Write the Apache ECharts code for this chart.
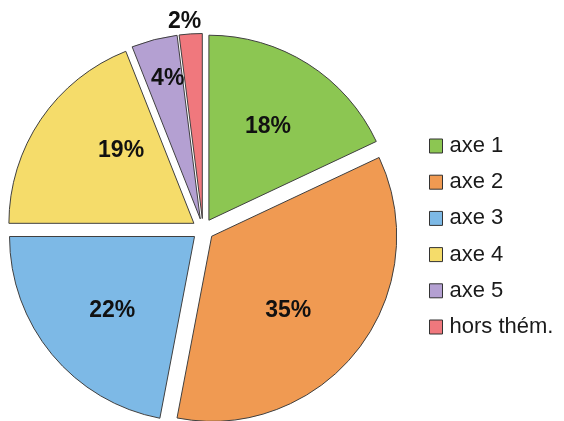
<!DOCTYPE html>
<html>
<head>
<meta charset="utf-8">
<script src="https://cdn.jsdelivr.net/npm/echarts@6/dist/echarts.min.js"></script>
<style>
  html, body { margin: 0; padding: 0; background: #ffffff; overflow: hidden; }
  #chart { width: 564px; height: 421px; }
</style>
</head>
<body>
<div id="chart"></div>
<script>
// Répartition par axe thématique (en %)
const categories = ['axe 1', 'axe 2', 'axe 3', 'axe 4', 'axe 5', 'hors thém.'];
const values = [18, 35, 22, 19, 4, 2];
const colors = ['#8cc652', '#f09a52', '#7db9e6', '#f5dc6a', '#b4a0d2', '#f0787d'];

// which ring each percentage label sits in: 0 = middle, 1 = near rim, 2 = outside
const labelRing = [0, 0, 0, 0, 1, 2];
// horizontal nudges (via side padding) and vertical nudges (via a spacer line)
const labelPadding = [
  [0, 6, 0, 0],
  [0, 30, 0, 0],
  [0, 0, 0, 14],
  [0, 0, 0, 46],
  [0, 0, 0, 10],
  [0, 10, 0, 0]
];
const labelShiftY = [4, 3, 0, -8, 6, 6];

const CX = 203, CY = 229.5, R = 185, OFFSET = 11;

const sliceData = categories.map((name, i) => ({
  name,
  value: values[i],
  selected: true,
  itemStyle: { color: colors[i] }
}));

function labelText(i) {
  const v = '{v|' + values[i] + '%}';
  const s = labelShiftY[i];
  if (s > 0) return '{g' + i + '| }\n' + v;
  if (s < 0) return v + '\n{g' + i + '| }';
  return v;
}

const richStyles = { v: { fontSize: 23, lineHeight: 24, fontWeight: 'bold', color: '#111111',
  fontFamily: 'Liberation Sans, Arial, sans-serif' } };
labelShiftY.forEach((s, i) => {
  richStyles['g' + i] = { fontSize: 1, lineHeight: Math.abs(s) * 2 };
});

// transparent rings carrying the percentage labels at different radii
function labelSeries(ring, radius) {
  return {
    type: 'pie',
    silent: true,
    center: [CX, CY],
    radius: radius,
    startAngle: 90,
    clockwise: true,
    selectedMode: 'multiple',
    selectedOffset: OFFSET,
    avoidLabelOverlap: false,
    legendHoverLink: false,
    emphasis: { disabled: true },
    select: { itemStyle: { color: 'rgba(0,0,0,0)', borderWidth: 0 } },
    itemStyle: { color: 'rgba(0,0,0,0)', borderWidth: 0 },
    labelLine: { show: false },
    label: {
      show: true,
      position: 'inside',
      rich: richStyles
    },
    data: categories.map((name, i) => ({
      name: name + ' ',
      value: values[i],
      selected: true,
      label: {
        show: labelRing[i] === ring,
        padding: labelPadding[i],
        formatter: labelText(i)
      }
    }))
  };
}

const chart = echarts.init(document.getElementById('chart'), null, { renderer: 'canvas' });
chart.setOption({
  animation: false,
  backgroundColor: '#ffffff',
  legend: {
    orient: 'vertical',
    left: 429,
    top: 135,
    padding: 0,
    itemWidth: 13,
    itemHeight: 14,
    itemGap: 14.2,
    icon: 'rect',
    selectedMode: false,
    data: categories,
    itemStyle: { borderColor: '#333333', borderWidth: 1 },
    textStyle: {
      fontFamily: 'Liberation Sans, Arial, sans-serif',
      fontSize: 22,
      color: '#1a1a1a',
      padding: [0, 0, 0, 2]
    }
  },
  series: [
    {
      type: 'pie',
      center: [CX, CY],
      radius: [0, R],
      startAngle: 90,
      clockwise: true,
      selectedMode: 'multiple',
      selectedOffset: OFFSET,
      avoidLabelOverlap: false,
      emphasis: { disabled: true },
      itemStyle: { borderColor: '#404040', borderWidth: 1 },
      select: { itemStyle: { borderColor: '#404040', borderWidth: 1 } },
      label: { show: false },
      labelLine: { show: false },
      data: sliceData
    },
    labelSeries(0, [R * 0.22, R]),
    labelSeries(1, [R * 0.6, R]),
    labelSeries(2, [R, R * 1.16])
  ]
});
</script>
</body>
</html>
